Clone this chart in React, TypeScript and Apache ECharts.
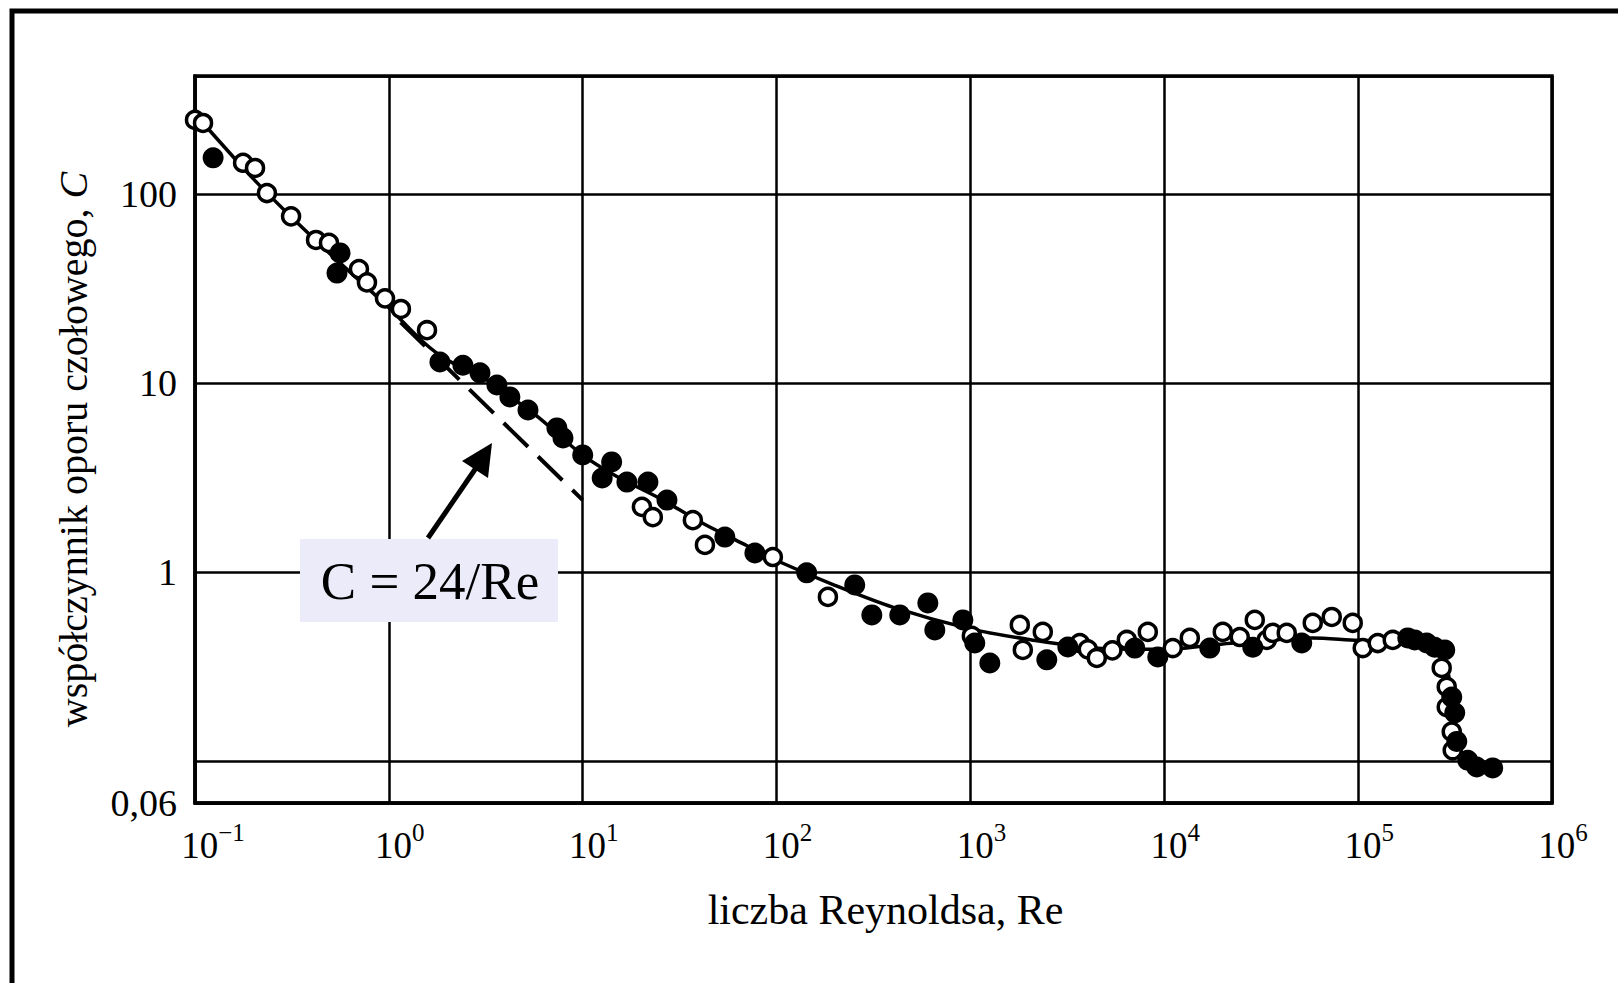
import React, { useEffect, useRef } from "react";
import * as echarts from "echarts";

const SERIF = '"Liberation Serif", "Times New Roman", serif';

// Axis ranges and tick labels
const xExponents = [-1, 0, 1, 2, 3, 4, 5, 6];
const yLabelValues = [0.06, 1, 10, 100];
const yLabelTexts = ["0,06", "1", "10", "100"];
const xMin = 0.1;
const xMax = 1e6;
const yMin = 0.06;
const yMax = 420;

// Open circles (Re, C)
const openRe = [0.1, 0.11, 0.177, 0.204, 0.235, 0.313, 0.421, 0.491, 0.701, 0.771, 0.955, 1.154, 1.573, 20.2, 23.0, 37, 42.7, 95.7, 184, 1017, 1798, 1863, 2362, 3666, 4031, 4486, 5400, 6405, 8222, 11060, 13540, 20030, 24510, 29290, 33780, 36260, 42820, 58320, 73090, 93770, 105600, 126200, 150800, 269800, 286400, 286400, 304000, 307500];
const openC = [246, 237, 146, 137, 101, 76, 57, 55, 40, 34, 28, 24.6, 19, 2.21, 1.95, 1.88, 1.39, 1.2, 0.738, 0.459, 0.525, 0.387, 0.482, 0.421, 0.39, 0.351, 0.385, 0.437, 0.482, 0.396, 0.448, 0.482, 0.453, 0.558, 0.437, 0.476, 0.476, 0.538, 0.578, 0.538, 0.396, 0.421, 0.437, 0.311, 0.247, 0.193, 0.143, 0.114];

// Filled circles (Re, C)
const filledRe = [0.124, 0.54, 0.56, 1.834, 2.41, 2.95, 3.61, 4.21, 5.22, 7.36, 7.91, 10.0, 12.6, 14.1, 16.9, 21.7, 27.2, 54.1, 77.3, 143, 253, 310, 432, 603, 655, 914, 1053, 1259, 2477, 3180, 7044, 9257, 17170, 28600, 51180, 180300, 195800, 225800, 248400, 279700, 304000, 315000, 322700, 367600, 409000, 494300];
const filledC = [155, 38.1, 48.7, 12.9, 12.4, 11.3, 9.75, 8.43, 7.19, 5.78, 5.12, 4.16, 3.14, 3.82, 2.99, 2.99, 2.4, 1.53, 1.26, 0.99, 0.854, 0.593, 0.593, 0.686, 0.494, 0.558, 0.421, 0.33, 0.343, 0.401, 0.396, 0.355, 0.396, 0.4, 0.421, 0.448, 0.437, 0.421, 0.4, 0.387, 0.218, 0.18, 0.127, 0.101, 0.093, 0.092];

// Fitted solid curve (Re, C)
const curveRe = [0.11, 0.2, 0.3, 0.5, 1, 1.5, 2, 3, 4.2, 6, 10, 15, 25, 40, 70, 100, 200, 400, 1000, 2000, 4500, 10000, 22000, 58000, 100000, 200000, 260000, 290000, 310000, 330000, 370000, 460000];
const curveC = [237, 120, 79, 48, 25, 16.5, 13.2, 10.8, 8.5, 6.5, 4.15, 3.2, 2.45, 1.85, 1.38, 1.15, 0.85, 0.65, 0.5, 0.44, 0.395, 0.39, 0.42, 0.448, 0.435, 0.43, 0.4, 0.3, 0.18, 0.12, 0.1, 0.093];

// Stokes law C = 24/Re (dashed)
const stokesRe = [1.15, 10];
const stokesC = [20.9, 2.4];

const pairs = (a: number[], b: number[]) => a.map((v, i) => [v, b[i]]);

export default function App() {
  const ref = useRef<HTMLDivElement>(null);

  useEffect(() => {
    const chart = echarts.init(ref.current as HTMLDivElement, null, { renderer: "svg" });
    chart.setOption({
      animation: false,
      backgroundColor: "#ffffff",
      grid: {
        left: 195,
        right: 66,
        top: 76,
        bottom: 180,
        show: true,
        borderColor: "#000",
        borderWidth: 3.5,
        backgroundColor: "transparent",
      },
      xAxis: {
        type: "log",
        logBase: 10,
        min: xMin,
        max: xMax,
        name: "liczba Reynoldsa, Re",
        nameLocation: "middle",
        nameGap: 86,
        nameTextStyle: {
          fontSize: 42,
          fontFamily: SERIF,
          color: "#000",
          padding: [0, 0, 0, 24],
        },
        axisLine: { show: true, lineStyle: { color: "#000", width: 3.5 } },
        axisTick: { show: false },
        splitLine: { show: true, lineStyle: { color: "#000", width: 2.5 } },
        axisLabel: {
          margin: 17,
          color: "#000",
          showMinLabel: true,
          showMaxLabel: true,
          formatter: (v: number) => {
            const e = Math.round(Math.log10(v));
            if (!xExponents.includes(e)) return "";
            const sup = e < 0 ? "\u2212" + Math.abs(e) : String(e);
            const pad = e < 0 ? "pw" : "pn";
            return `{${pad}| }{b|10}{s|${sup}}`;
          },
          rich: {
            b: { fontSize: 37, lineHeight: 44, verticalAlign: "bottom", fontFamily: SERIF, color: "#000" },
            s: { fontSize: 25, lineHeight: 24, verticalAlign: "top", fontFamily: SERIF, color: "#000" },
            pw: { width: 36, fontSize: 24, lineHeight: 24 },
            pn: { width: 22, fontSize: 24, lineHeight: 24 },
          },
        },
      },
      yAxis: {
        type: "log",
        logBase: 10,
        min: yMin,
        max: yMax,
        name: "współczynnik oporu czołowego, {i|C}",
        nameLocation: "middle",
        nameRotate: 90,
        nameGap: 102,
        nameTextStyle: {
          fontSize: 40,
          fontFamily: SERIF,
          color: "#000",
          padding: [0, 20, 0, 0],
          rich: {
            i: { fontSize: 40, fontFamily: SERIF, fontStyle: "italic", color: "#000" },
          },
        },
        axisLine: { show: true, lineStyle: { color: "#000", width: 3.5 } },
        axisTick: { show: false },
        splitLine: { show: true, lineStyle: { color: "#000", width: 2.5 } },
        axisLabel: {
          margin: 18,
          color: "#000",
          fontSize: 38,
          fontFamily: SERIF,
          showMinLabel: true,
          showMaxLabel: false,
          formatter: (v: number) => {
            for (let i = 0; i < yLabelValues.length; i++) {
              if (Math.abs(v - yLabelValues[i]) / yLabelValues[i] < 1e-6) return yLabelTexts[i];
            }
            return "";
          },
        },
      },
      series: [
        {
          type: "line",
          data: pairs(stokesRe, stokesC),
          showSymbol: false,
          symbol: "none",
          lineStyle: { color: "#000", width: 4, type: [34, 14] },
          z: 2,
          silent: true,
        },
        {
          type: "line",
          data: pairs(curveRe, curveC),
          showSymbol: false,
          symbol: "none",
          smooth: 0.3,
          clip: false,
          lineStyle: { color: "#000", width: 3.5 },
          z: 3,
          silent: true,
        },
        {
          type: "scatter",
          data: pairs(openRe, openC),
          symbol: "circle",
          symbolSize: 17,
          clip: false,
          itemStyle: { color: "#fff", borderColor: "#000", borderWidth: 3.5, opacity: 1 },
          z: 4,
          silent: true,
        },
        {
          type: "scatter",
          data: pairs(filledRe, filledC),
          symbol: "circle",
          symbolSize: 21,
          clip: false,
          itemStyle: { color: "#000", opacity: 1 },
          z: 5,
          silent: true,
        },
      ],
      graphic: [
        {
          type: "rect",
          silent: true,
          z: 100,
          shape: { x: 12, y: 11, width: 3000, height: 3000 },
          style: { fill: "none", stroke: "#000", lineWidth: 5 },
        },
        {
          type: "rect",
          silent: true,
          z: 100,
          shape: { x: 300, y: 539, width: 258, height: 83 },
          style: { fill: "#EBEBFA" },
        },
        {
          type: "text",
          silent: true,
          z: 101,
          x: 430,
          y: 581,
          style: {
            text: "C = 24/Re",
            fontSize: 53,
            fontFamily: SERIF,
            fill: "#000",
            align: "center",
            verticalAlign: "middle",
            textAlign: "center",
            textVerticalAlign: "middle",
          },
        },
        {
          type: "line",
          silent: true,
          z: 101,
          shape: { x1: 428, y1: 538, x2: 478, y2: 465 },
          style: { stroke: "#000", lineWidth: 5 },
        },
        {
          type: "polygon",
          silent: true,
          z: 101,
          shape: { points: [[492, 443], [462, 461], [488, 478]] },
          style: { fill: "#000" },
        },
      ],
    });
    return () => chart.dispose();
  }, []);

  return (
    <div
      ref={ref}
      style={{ position: "fixed", left: 0, top: 0, width: 1618, height: 983, background: "#fff" }}
    />
  );
}
